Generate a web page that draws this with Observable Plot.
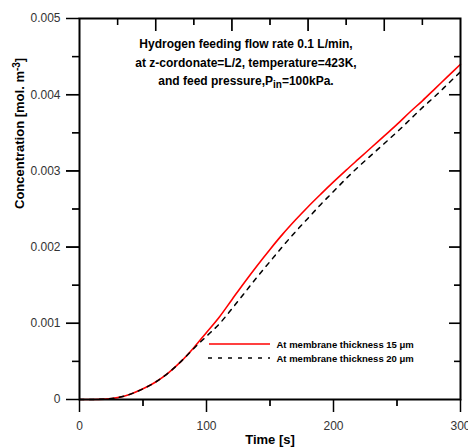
<!DOCTYPE html>
<html><head><meta charset="utf-8">
<script src="https://cdn.jsdelivr.net/npm/d3@7"></script>
<script src="https://cdn.jsdelivr.net/npm/@observablehq/plot@0.6"></script>
<style>body{margin:0;background:#fff}</style>
</head><body><div id="chart"></div>
<script>
const times  = [0,10,20,30,40,50,60,70,80,90,100,110,120,130,140,150,160,170,180,190,200,210,220,230,240,250,260,270,280,290,300];
const conc15 = [0,0,0.000005,0.000025,0.00007,0.00014,0.00023,0.00035,0.0005,0.00068,0.00088,0.00108,0.00131,0.00154,0.00176,0.00197,0.00217,0.002355,0.00253,0.002695,0.002855,0.00301,0.00316,0.00331,0.00346,0.00361,0.00377,0.00392,0.00408,0.00424,0.0044];
const conc20 = [0,0,0.000005,0.000025,0.00007,0.00014,0.00023,0.00035,0.0005,0.00067,0.00083,0.00099,0.00119,0.0014,0.00161,0.00181,0.00201,0.0022,0.00238,0.00256,0.00273,0.0029,0.00306,0.00321,0.00336,0.00351,0.00367,0.00383,0.00398,0.00414,0.0043];
const seriesNames = ["At membrane thickness 15 \u03bcm", "At membrane thickness 20 \u03bcm"];
const xMajor = [0,100,200,300];
const xMinor = [50,150,250];
const topMajor = [60,120,180,240];
const topMinor = [30,90,150,210,270];
const yMajor = [0,0.001,0.002,0.003,0.004,0.005];
const yMinor = [0.0005,0.0015,0.0025,0.0035,0.0045];
const rightMajor = [0.001,0.002,0.003,0.004];
const rightMinor = [0.0005,0.0015,0.0025,0.0035,0.0045];
const titleLines = ["Hydrogen feeding flow rate 0.1 L/min,", "at z-cordonate=L/2, temperature=423K,", "and feed pressure,Pin=100kPa."];
const xLabel = "Time [s]";
const yLabel = "Concentration [mol. m-3]";

const data15 = times.map((t,i)=>({t, c: conc15[i]}));
const data20 = times.map((t,i)=>({t, c: conc20[i]}));

const W=468,H=447,mL=79,mR=8,mT=18,mB=48;
const plotW = W-mL-mR, plotH = H-mT-mB;
const fmt = d => d===0 ? "0" : d3.format(".3f")(d);
const font = "'Liberation Sans', Arial, Helvetica, sans-serif";
const blank = () => "";

// each tick set drawn twice: default width and a slightly heavier stroke
function tickSets(sw) {
  const o = sw ? {strokeWidth: sw} : {};
  return [
    Plot.axisY(yMajor,{anchor:"left",tickSize:13,tickFormat:blank,label:null,...o}),
    Plot.axisY(yMinor,{anchor:"left",tickSize:7,tickFormat:blank,label:null,...o}),
    Plot.axisX(xMajor,{anchor:"bottom",tickSize:13,tickFormat:blank,label:null,...o}),
    Plot.axisX(xMinor,{anchor:"bottom",tickSize:7,tickFormat:blank,label:null,...o}),
    Plot.tickX(topMajor,{x:d=>d,stroke:"black",insetBottom:plotH-13,...o}),
    Plot.tickX(topMinor,{x:d=>d,stroke:"black",insetBottom:plotH-7,...o}),
    Plot.tickY(rightMajor,{y:d=>d,stroke:"black",insetLeft:plotW-11,...o}),
    Plot.tickY(rightMinor,{y:d=>d,stroke:"black",insetLeft:plotW-6,...o})
  ];
}

const plot = Plot.plot({
  width:W, height:H, marginLeft:mL, marginRight:mR, marginTop:mT, marginBottom:mB,
  style:{fontFamily:font, background:"#fff"},
  x:{domain:[0,300]}, y:{domain:[0,0.005]},
  marks:[
    Plot.line(data15,{x:"t",y:"c",stroke:"red",strokeWidth:1.6,curve:"monotone-x"}),
    Plot.line(data20,{x:"t",y:"c",stroke:"black",strokeWidth:1.5,strokeDasharray:"4.5,5.5",curve:"monotone-x"}),
    Plot.frame({stroke:"black",strokeWidth:2}),
    ...tickSets(null),
    ...tickSets(1.5),
    Plot.axisY(yMajor,{anchor:"left",tickSize:13,tickPadding:6,tickFormat:fmt,fontSize:12,label:null}),
    Plot.axisX(xMajor,{anchor:"bottom",tickSize:13,tickPadding:9,tickFormat:d=>String(d),fontSize:12,label:null}),
    Plot.text([xLabel],{frameAnchor:"bottom",dy:40,text:d=>d,fontWeight:"bold",fontSize:13,fill:"black",lineAnchor:"middle"}),
    Plot.text([yLabel],{frameAnchor:"left",dx:-60,rotate:-90,text:d=>d,fontWeight:"bold",fontSize:13,fill:"black",lineAnchor:"middle"}),
    Plot.text([titleLines[0]],{frameAnchor:"top",dx:-24,dy:26,text:d=>d,fontWeight:"bold",fontSize:12,fill:"black",lineAnchor:"middle"}),
    Plot.text([titleLines[1]],{frameAnchor:"top",dx:-24,dy:44.5,text:d=>d,fontWeight:"bold",fontSize:12,fill:"black",lineAnchor:"middle"}),
    Plot.text([titleLines[2]],{frameAnchor:"top",dx:-24,dy:63,text:d=>d,fontWeight:"bold",fontSize:12,fill:"black",lineAnchor:"middle"}),
    Plot.text([seriesNames[0]],{frameAnchor:"bottom-left",dx:197,dy:-55,text:d=>d,textAnchor:"start",fontWeight:"bold",fontSize:9.5,fill:"black",lineAnchor:"middle"}),
    Plot.text([seriesNames[1]],{frameAnchor:"bottom-left",dx:197,dy:-41,text:d=>d,textAnchor:"start",fontWeight:"bold",fontSize:9.5,fill:"black",lineAnchor:"middle"})
  ]
});

const svg = d3.select(plot);
svg.selectAll("g[aria-label$='tick label']").attr("fill","#333");
svg.selectAll("text").each(function(){
  const t = this.textContent;
  const el = d3.select(this);
  if (t === titleLines[2]) {
    el.text(null);
    el.append("tspan").text("and feed pressure,P");
    el.append("tspan").attr("font-size","10px").attr("dy","2.5").text("in");
    el.append("tspan").attr("dy","-2.5").text("=100kPa.");
  } else if (t === yLabel) {
    el.text(null);
    el.append("tspan").text("Concentration [mol. m");
    el.append("tspan").attr("font-size","10px").attr("dy","-4").text("-3");
    el.append("tspan").attr("dy","4").text("]");
  }
});

// legend swatches
const lg = svg.append("g");
lg.append("line").attr("x1",209).attr("x2",270).attr("y1",344).attr("y2",344)
  .attr("stroke","red").attr("stroke-width",1.6);
lg.append("line").attr("x1",208).attr("x2",270).attr("y1",358).attr("y2",358)
  .attr("stroke","black").attr("stroke-width",1.5).attr("stroke-dasharray","4,6");

document.getElementById("chart").appendChild(plot);
</script>
</body></html>
